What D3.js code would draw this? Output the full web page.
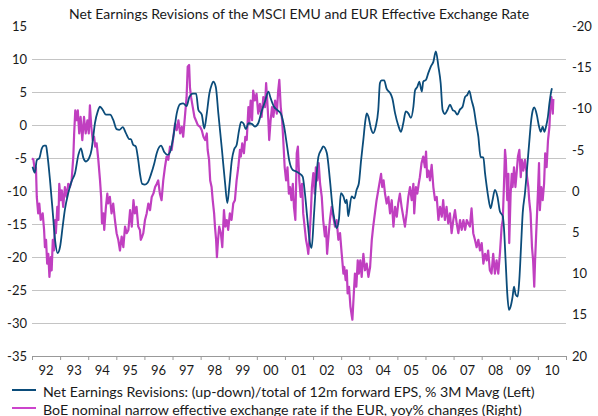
<!DOCTYPE html>
<html><head><meta charset="utf-8">
<script src="https://cdn.jsdelivr.net/npm/d3@7"></script>
<style>
html,body{margin:0;padding:0;background:#fff;}
svg{display:block;font-family:"Lato","Open Sans",sans-serif;}
</style></head><body>
<svg id="c" width="598" height="416"></svg>
<script>
const title = "Net Earnings Revisions of the MSCI EMU and EUR Effective Exchange Rate";
const legendLabels = [
  "Net Earnings Revisions: (up-down)/total of 12m forward EPS, % 3M Mavg (Left)",
  "BoE nominal narrow effective exchange rate if the EUR, yoy% changes (Right)"
];
const years = d3.range(1992, 2012);
const leftTicks = [15,10,5,0,-5,-10,-15,-20,-25,-30,-35];
const rightTicks = [-20,-15,-10,-5,0,5,10,15,20];

// Net earnings revisions (left axis) : decimal year / value
const blueT = [1992.02,1992.10,1992.17,1992.26,1992.35,1992.43,1992.50,1992.54,1992.64,1992.74,1992.82,1992.91,1993.00,1993.09,1993.17,1993.29,1993.41,1993.53,1993.65,1993.74,1993.83,1993.92,1994.03,1994.12,1994.18,1994.24,1994.34,1994.42,1994.52,1994.63,1994.78,1994.89,1995.01,1995.11,1995.23,1995.34,1995.46,1995.52,1995.60,1995.69,1995.78,1995.84,1995.92,1996.02,1996.12,1996.23,1996.35,1996.44,1996.59,1996.71,1996.83,1996.91,1997.03,1997.15,1997.27,1997.38,1997.50,1997.60,1997.72,1997.84,1997.92,1998.04,1998.13,1998.22,1998.31,1998.39,1998.45,1998.54,1998.63,1998.76,1998.87,1998.95,1999.02,1999.11,1999.19,1999.28,1999.37,1999.44,1999.52,1999.61,1999.70,1999.82,1999.93,2000.05,2000.17,2000.29,2000.41,2000.49,2000.61,2000.73,2000.85,2000.97,2001.06,2001.15,2001.28,2001.39,2001.51,2001.63,2001.71,2001.80,2001.89,2001.95,2002.03,2002.13,2002.19,2002.31,2002.36,2002.49,2002.60,2002.69,2002.76,2002.84,2002.92,2002.99,2003.08,2003.16,2003.20,2003.25,2003.37,2003.47,2003.55,2003.63,2003.71,2003.79,2003.85,2003.91,2003.97,2004.06,2004.14,2004.23,2004.32,2004.38,2004.44,2004.53,2004.62,2004.74,2004.82,2004.92,2005.03,2005.13,2005.21,2005.30,2005.39,2005.48,2005.57,2005.63,2005.71,2005.78,2005.87,2005.92,2006.02,2006.10,2006.19,2006.28,2006.37,2006.46,2006.54,2006.61,2006.69,2006.78,2006.87,2006.97,2007.05,2007.13,2007.23,2007.32,2007.41,2007.49,2007.56,2007.64,2007.73,2007.80,2007.88,2007.96,2008.06,2008.12,2008.18,2008.23,2008.32,2008.39,2008.47,2008.56,2008.65,2008.75,2008.79,2008.85,2008.91,2008.97,2009.03,2009.10,2009.15,2009.21,2009.28,2009.34,2009.40,2009.46,2009.54,2009.62,2009.69,2009.75,2009.82,2009.87,2009.96,2010.04,2010.10,2010.17,2010.23,2010.29,2010.35,2010.41,2010.46,2010.50];
const blueV = [-6.3,-7.2,-5.3,-5.0,-3.5,-3.1,-3.1,-4.2,-8.3,-13.3,-17.4,-19.4,-18.4,-15.4,-12.8,-10.3,-8.5,-7.3,-4.5,-3.5,-5.0,-5.5,-5.0,-3.7,-1.7,0.3,2.1,2.8,2.3,1.6,1.6,0.8,-0.6,-0.7,-0.3,-1.2,-2.1,-2.1,-3.0,-3.2,-5.3,-7.3,-8.9,-9.0,-8.7,-7.5,-5.8,-4.2,-3.1,-4.1,-4.5,-4.1,-1.7,1.8,3.2,3.3,2.9,4.3,4.8,4.8,2.3,1.6,-0.5,1.8,4.8,6.1,6.6,5.8,1.8,-3.8,-8.8,-11.8,-9.3,-5.3,-3.7,-3.0,-0.7,0.5,0.3,-0.6,0.3,0.2,-0.2,0.3,2.1,3.6,5.1,4.1,2.8,2.3,1.8,-0.2,-2.7,-5.3,-6.8,-7.0,-7.3,-7.8,-10.3,-14.3,-17.9,-18.6,-13.8,-7.3,-4.8,-3.6,-3.2,-4.2,-8.3,-12.3,-14.3,-15.6,-14.3,-10.3,-10.8,-11.8,-11.3,-13.8,-10.8,-11.1,-9.8,-8.8,-5.3,-2.2,0.3,1.8,1.3,-0.5,-1.2,-0.2,2.3,6.4,6.8,6.8,5.5,4.9,4.1,1.8,0.0,-1.0,0.3,2.1,1.8,1.1,2.8,5.3,5.8,6.6,5.1,6.6,6.9,7.9,8.9,9.6,11.2,8.9,6.4,2.3,1.7,2.3,3.1,2.3,2.1,1.6,2.4,2.8,4.3,4.6,5.2,3.8,2.3,0.3,-1.7,-4.8,-4.9,-7.3,-9.3,-10.8,-12.6,-11.3,-9.8,-10.8,-13.1,-13.8,-15.4,-20.4,-25.5,-28.0,-27.5,-26.0,-24.5,-25.7,-26.0,-23.4,-18.4,-13.3,-10.3,-6.3,-2.7,0.3,2.3,2.7,1.6,-0.2,-1.0,-0.2,-1.0,-0.2,1.1,3.3,4.8,5.6];

// EUR effective exchange rate yoy% (right axis, inverted) : decimal year / value
const purpleT = [1992.00,1992.05,1992.11,1992.14,1992.17,1992.22,1992.26,1992.31,1992.38,1992.43,1992.46,1992.50,1992.54,1992.58,1992.62,1992.67,1992.70,1992.74,1992.78,1992.82,1992.85,1992.90,1992.94,1992.97,1993.02,1993.06,1993.11,1993.17,1993.23,1993.29,1993.35,1993.41,1993.47,1993.50,1993.54,1993.59,1993.63,1993.68,1993.73,1993.79,1993.85,1993.91,1993.97,1994.02,1994.06,1994.11,1994.16,1994.21,1994.25,1994.30,1994.36,1994.42,1994.46,1994.49,1994.54,1994.57,1994.63,1994.68,1994.71,1994.77,1994.83,1994.89,1994.95,1995.01,1995.07,1995.13,1995.19,1995.25,1995.31,1995.37,1995.43,1995.49,1995.55,1995.61,1995.66,1995.72,1995.78,1995.84,1995.87,1995.92,1995.96,1996.02,1996.08,1996.14,1996.20,1996.26,1996.32,1996.38,1996.44,1996.49,1996.55,1996.61,1996.67,1996.73,1996.79,1996.85,1996.91,1996.97,1997.03,1997.09,1997.15,1997.21,1997.27,1997.33,1997.38,1997.44,1997.50,1997.54,1997.59,1997.62,1997.66,1997.72,1997.78,1997.83,1997.90,1997.98,1998.04,1998.10,1998.16,1998.22,1998.25,1998.30,1998.34,1998.39,1998.43,1998.48,1998.51,1998.55,1998.58,1998.62,1998.66,1998.72,1998.77,1998.83,1998.88,1998.93,1998.98,1999.04,1999.10,1999.16,1999.22,1999.28,1999.34,1999.40,1999.43,1999.48,1999.54,1999.59,1999.64,1999.70,1999.73,1999.78,1999.83,1999.87,1999.93,1999.99,2000.05,2000.11,2000.17,2000.23,2000.29,2000.33,2000.37,2000.41,2000.44,2000.49,2000.54,2000.59,2000.65,2000.71,2000.76,2000.80,2000.85,2000.90,2000.94,2000.99,2001.04,2001.09,2001.14,2001.18,2001.23,2001.28,2001.32,2001.37,2001.42,2001.46,2001.51,2001.56,2001.61,2001.65,2001.70,2001.75,2001.80,2001.83,2001.87,2001.92,2001.96,2002.01,2002.06,2002.10,2002.15,2002.20,2002.25,2002.31,2002.36,2002.42,2002.46,2002.50,2002.54,2002.60,2002.66,2002.72,2002.78,2002.84,2002.90,2002.96,2003.02,2003.08,2003.11,2003.16,2003.20,2003.23,2003.28,2003.33,2003.38,2003.40,2003.45,2003.49,2003.54,2003.59,2003.63,2003.68,2003.73,2003.79,2003.85,2003.91,2003.97,2004.03,2004.09,2004.14,2004.20,2004.26,2004.32,2004.38,2004.42,2004.46,2004.51,2004.56,2004.62,2004.68,2004.74,2004.80,2004.86,2004.92,2004.98,2005.03,2005.09,2005.15,2005.21,2005.27,2005.33,2005.39,2005.45,2005.51,2005.57,2005.60,2005.66,2005.71,2005.76,2005.80,2005.86,2005.92,2005.98,2006.02,2006.06,2006.11,2006.16,2006.22,2006.28,2006.34,2006.40,2006.46,2006.52,2006.58,2006.63,2006.69,2006.75,2006.81,2006.87,2006.93,2006.99,2007.05,2007.11,2007.17,2007.23,2007.29,2007.35,2007.41,2007.47,2007.52,2007.58,2007.64,2007.70,2007.76,2007.82,2007.88,2007.94,2008.00,2008.06,2008.12,2008.18,2008.23,2008.29,2008.35,2008.41,2008.47,2008.53,2008.59,2008.65,2008.71,2008.75,2008.79,2008.83,2008.86,2008.91,2008.95,2008.98,2009.03,2009.07,2009.10,2009.15,2009.20,2009.25,2009.29,2009.34,2009.39,2009.43,2009.48,2009.54,2009.60,2009.66,2009.69,2009.74,2009.79,2009.83,2009.87,2009.90,2009.95,2010.00,2010.04,2010.07,2010.12,2010.17,2010.22,2010.26,2010.31,2010.36,2010.41,2010.44,2010.48,2010.53,2010.55];
const purpleV = [-4.0,-3.8,-2.3,-2.9,0.7,2.7,1.5,3.5,2.7,4.7,6.8,5.9,8.8,7.6,10.4,8.0,9.6,5.9,7.2,3.5,5.1,1.9,3.5,-0.9,1.1,-0.1,1.9,-0.5,0.7,-0.9,-0.5,-1.3,-4.2,-7.0,-9.8,-8.6,-9.8,-7.0,-9.0,-6.2,-9.0,-7.0,-8.6,-7.0,-10.4,-7.8,-6.2,-6.6,-5.4,-5.8,-3.8,-1.3,0.7,3.9,2.7,4.7,1.9,0.3,1.5,0.7,2.7,1.5,3.5,5.1,5.9,7.2,5.5,6.8,4.3,5.1,4.7,2.3,4.3,1.1,2.7,1.9,4.3,4.7,5.9,5.5,5.1,3.5,2.7,1.5,2.3,0.7,0.3,-0.5,-0.9,-1.3,0.3,1.1,-1.3,-2.9,-4.2,-3.8,-5.4,-5.0,-6.6,-8.2,-7.4,-8.6,-7.0,-7.8,-6.6,-9.0,-11.4,-15.1,-15.3,-12.6,-11.4,-10.2,-9.0,-8.6,-8.0,-7.8,-7.4,-6.6,-6.2,-7.0,-5.0,-3.8,-1.3,-0.5,1.1,2.7,4.3,5.9,8.0,5.9,4.3,5.1,6.8,2.3,4.3,3.5,4.7,2.7,3.5,1.5,1.1,-1.3,-2.9,-5.0,-4.2,-5.8,-4.6,-6.6,-6.2,-10.2,-8.2,-11.0,-8.6,-12.2,-11.0,-11.8,-9.4,-10.6,-9.0,-11.4,-10.2,-13.1,-11.0,-8.6,-6.2,-8.6,-10.2,-9.0,-11.0,-9.4,-12.2,-13.5,-10.2,-8.6,-6.2,-2.9,-1.3,-2.9,0.3,-0.5,1.1,-0.9,1.9,3.5,-4.6,-5.4,-1.3,0.7,-0.9,2.7,4.3,5.9,6.8,7.6,5.9,2.7,-0.5,-2.2,0.3,-2.9,-1.3,-3.4,-0.9,0.7,3.5,5.5,4.3,7.6,5.9,3.5,1.9,3.1,4.3,3.5,5.9,5.1,7.6,10.0,9.2,10.8,9.6,12.4,11.6,14.0,15.2,15.6,12.4,10.0,11.6,8.4,10.0,8.4,10.4,7.6,9.6,8.8,10.4,9.2,5.9,4.3,2.7,1.1,-0.1,-1.3,-2.1,-0.5,-1.3,0.3,1.5,0.7,2.7,1.1,4.3,1.9,3.1,1.5,0.3,1.9,3.1,4.3,2.7,0.7,-0.5,1.1,-0.9,2.7,-0.5,0.3,-0.9,-1.7,-3.4,-4.2,-2.9,-4.8,-1.7,-2.5,-1.3,-3.2,-0.5,1.1,0.7,3.5,1.9,3.1,1.1,3.5,1.9,3.9,2.7,5.1,3.5,2.3,3.9,5.1,3.5,4.7,3.5,4.7,3.5,3.9,4.3,2.1,5.1,5.9,6.8,5.9,7.2,6.3,8.8,7.6,8.4,7.2,9.6,10.0,7.6,10.0,8.4,10.0,7.5,4.3,3.5,-0.5,-5.0,-3.8,1.1,-2.1,6.3,0.3,-2.1,-0.5,-2.9,-0.5,-2.5,-4.2,-5.0,-1.7,-3.8,-2.5,-3.8,-2.1,-0.5,1.1,2.7,6.8,8.4,11.6,8.4,4.3,0.3,-3.4,2.3,-0.5,1.1,-0.9,-4.6,-2.9,-6.2,-7.8,-10.2,-11.4,-9.4,-11.2];

const blueColor = "#0b4c7a", purpleColor = "#c03fc0", gridColor = "#c4c4c4", textColor = "#1a1a1a";

const svg = d3.select("#c");
const x0 = 32, x1 = 566, yTop = 26.3, yBot = 356;
const x = d3.scaleLinear().domain([1992, 2011]).range([x0, x1]);
const yL = d3.scaleLinear().domain([-35, 15]).range([yBot, yTop]);
const yR = d3.scaleLinear().domain([20, -20]).range([yBot, yTop]);

// title
svg.append("text").attr("x", 299).attr("y", 19).attr("text-anchor", "middle")
  .attr("font-size", 14).attr("fill", textColor).text(title);

// gridlines
svg.append("g").selectAll("line").data(leftTicks.filter(v => v > -35 && v < 15)).join("line")
  .attr("x1", x0).attr("x2", x1).attr("y1", d => yL(d)).attr("y2", d => yL(d))
  .attr("stroke", gridColor).attr("stroke-width", 1).attr("shape-rendering", "crispEdges");

// left axis
const gL = svg.append("g").attr("transform", `translate(${x0},0)`)
  .call(d3.axisLeft(yL).tickValues(leftTicks).tickSize(0).tickPadding(5).tickFormat(d => String(d)));
gL.select(".domain").remove();
gL.selectAll("text").attr("font-size", 13).attr("fill", textColor).attr("font-family", "Lato");

// right axis
const gR = svg.append("g").attr("transform", `translate(${x1},0)`)
  .call(d3.axisRight(yR).tickValues(rightTicks).tickSize(0).tickPadding(6).tickFormat(d => String(d)));
gR.select(".domain").remove();
gR.selectAll("text").attr("font-size", 13).attr("fill", textColor).attr("font-family", "Lato");

// bottom axis ticks
const gB = svg.append("g").attr("transform", `translate(0,${yBot})`)
  .call(d3.axisBottom(x).tickValues(years).tickSize(4).tickFormat(""));
gB.select(".domain").attr("stroke", "#999").attr("d", `M${x0},0.5H${x1}`);
gB.selectAll(".tick line").attr("stroke", "#999");
// year labels centred in each year
svg.append("g").selectAll("text").data(years.slice(0, -1)).join("text")
  .attr("x", d => x(d + 0.5)).attr("y", 375).attr("text-anchor", "middle")
  .attr("font-size", 13).attr("fill", textColor).text(d => String(d).slice(2));

// series
const purpleData = purpleT.map((t, i) => [t, purpleV[i]]);
const blueData = blueT.map((t, i) => [t, blueV[i]]);
svg.append("path").datum(purpleData)
  .attr("fill", "none").attr("stroke", purpleColor).attr("stroke-width", 2.2).attr("stroke-linejoin", "round")
  .attr("d", d3.line().x(d => x(d[0])).y(d => yR(d[1])));
svg.append("path").datum(blueData)
  .attr("fill", "none").attr("stroke", blueColor).attr("stroke-width", 1.8).attr("stroke-linejoin", "round")
  .attr("d", d3.line().x(d => x(d[0])).y(d => yL(d[1])).curve(d3.curveMonotoneX));

// legend
const lg = svg.append("g");
[blueColor, purpleColor].forEach((c, i) => {
  const yy = 390 + i * 18;
  lg.append("line").attr("x1", 12).attr("x2", 36).attr("y1", yy).attr("y2", yy)
    .attr("stroke", i ? "#cc44cc" : c).attr("stroke-width", 2);
  lg.append("text").attr("x", 43).attr("y", yy + 6.5).attr("font-size", 14.2).attr("fill", textColor)
    .text(legendLabels[i]);
});
</script></body></html>
